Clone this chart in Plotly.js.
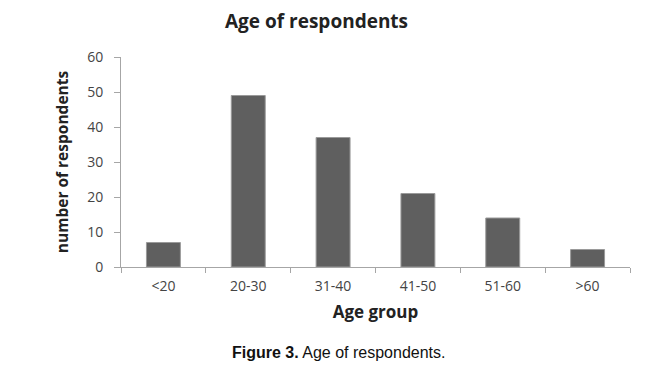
<!DOCTYPE html>
<html><head><meta charset="utf-8">
<script src="https://cdn.plot.ly/plotly-3.0.1.min.js"></script>
<style>body{margin:0;background:#fff}#chart{width:654px;height:369px}</style>
</head><body><div id="chart"></div>
<script>
const categories = ["<20", "20-30", "31-40", "41-50", "51-60", ">60"];
const respondents = [7, 49, 37, 21, 14, 5];
const yTicks = [0, 10, 20, 30, 40, 50, 60];

const trace = {
  type: "bar",
  x: categories,
  y: respondents,
  marker: {color: "#5f5f5f", line: {color: "#9a9a9a", width: 1}},
  hoverinfo: "x+y"
};

const layout = {
  width: 654, height: 369,
  margin: {l: 121, r: 24, t: 57, b: 102},
  paper_bgcolor: "#fff", plot_bgcolor: "#fff",
  bargap: 0.6,
  showlegend: false,
  font: {family: "Open Sans, Liberation Sans, sans-serif", color: "#444"},
  title: {text: "<b>Age of respondents</b>", x: 0.484, xanchor: "center", y: 0.943, yanchor: "middle",
          font: {size: 19, color: "#222", family: "Open Sans, sans-serif"}},
  xaxis: {
    type: "category",
    range: [-0.5, 5.5],
    showline: true, linecolor: "#a6a6a6", linewidth: 1,
    ticks: "outside", tickson: "boundaries", ticklen: 5, tickcolor: "#a6a6a6",
    ticklabelstandoff: 6,
    tickfont: {size: 14, color: "#444"},
    showgrid: false, zeroline: false,
    title: {text: "<b>Age group</b>", font: {size: 17, color: "#222"}, standoff: 12}
  },
  yaxis: {
    range: [0, 60],
    tickvals: yTicks,
    showline: true, linecolor: "#a6a6a6", linewidth: 1,
    ticks: "outside", ticklen: 6, tickcolor: "#a6a6a6",
    ticklabelstandoff: 8,
    tickfont: {size: 14, color: "#444"},
    showgrid: false, zeroline: false,
    title: {text: "<b>number of respondents</b>", font: {size: 15.5, color: "#222"}, standoff: 14}
  },
  annotations: [{
    text: "<b>Figure 3.</b> Age of respondents.",
    xref: "paper", yref: "paper", x: 0.428, y: -0.405, xanchor: "center", yanchor: "middle",
    showarrow: false, font: {size: 16, color: "#111", family: "Liberation Sans, Arial, sans-serif"}
  }]
};

Plotly.newPlot("chart", [trace], layout, {displayModeBar: false, staticPlot: true});
</script></body></html>
